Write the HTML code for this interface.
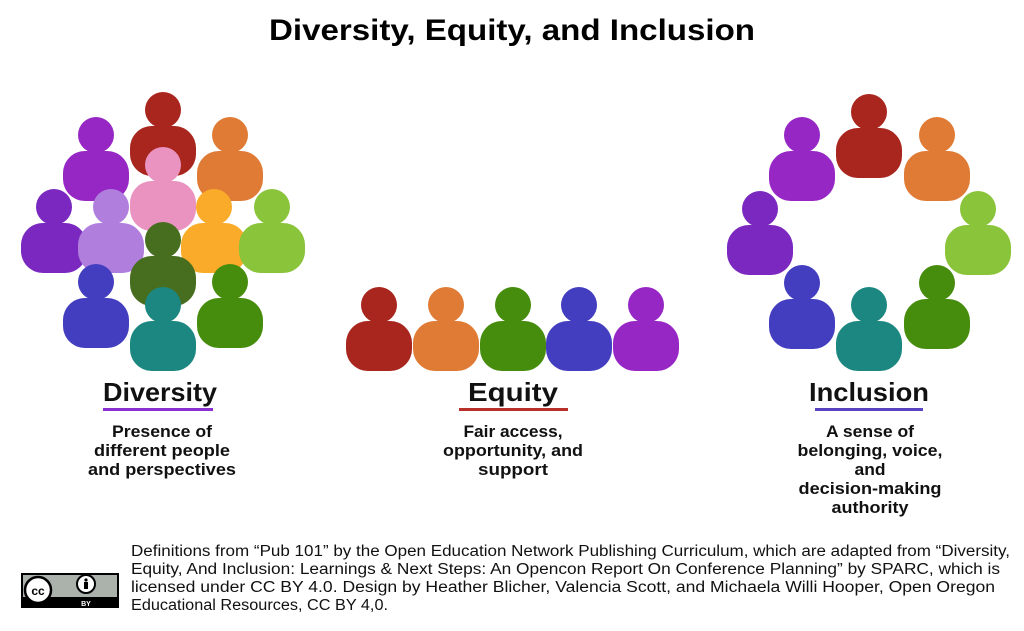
<!DOCTYPE html>
<html><head><style>
html,body{margin:0;padding:0;background:#fff;}
svg{display:block;}
text{font-family:"Liberation Sans",sans-serif;}
</style></head><body>
<svg width="1024" height="631" viewBox="0 0 1024 631">
<defs>
<g id="p"><circle cx="0" cy="0" r="18"/><rect x="-33" y="16" width="66" height="50" rx="22"/></g>
</defs>
<text x="512" y="40" text-anchor="middle" font-size="30" font-weight="bold" fill="#000" textLength="486" lengthAdjust="spacingAndGlyphs">Diversity, Equity, and Inclusion</text>
<use href="#p" x="96" y="135" fill="#9627c4"/>
<use href="#p" x="163" y="110" fill="#a8261d"/>
<use href="#p" x="230" y="135" fill="#e07b35"/>
<use href="#p" x="163" y="165" fill="#ea92c0"/>
<use href="#p" x="54" y="207" fill="#7a28bf"/>
<use href="#p" x="111" y="207" fill="#b07fde"/>
<use href="#p" x="214" y="207" fill="#fbab2a"/>
<use href="#p" x="272" y="207" fill="#8ac43a"/>
<use href="#p" x="163" y="240" fill="#476e1f"/>
<use href="#p" x="96" y="282" fill="#433dbf"/>
<use href="#p" x="230" y="282" fill="#468c0d"/>
<use href="#p" x="163" y="305" fill="#1b8780"/>
<use href="#p" x="379" y="305" fill="#a8261d"/>
<use href="#p" x="446" y="305" fill="#e07b35"/>
<use href="#p" x="513" y="305" fill="#468c0d"/>
<use href="#p" x="579" y="305" fill="#433dbf"/>
<use href="#p" x="646" y="305" fill="#9627c4"/>
<use href="#p" x="869" y="112" fill="#a8261d"/>
<use href="#p" x="802" y="135" fill="#9627c4"/>
<use href="#p" x="937" y="135" fill="#e07b35"/>
<use href="#p" x="760" y="209" fill="#7a28bf"/>
<use href="#p" x="978" y="209" fill="#8ac43a"/>
<use href="#p" x="802" y="283" fill="#433dbf"/>
<use href="#p" x="937" y="283" fill="#468c0d"/>
<use href="#p" x="869" y="305" fill="#1b8780"/>
<g font-weight="bold" fill="#111" text-anchor="middle">
<text x="160" y="401" font-size="26" textLength="114" lengthAdjust="spacingAndGlyphs">Diversity</text>
<text x="513" y="401" font-size="26" textLength="90" lengthAdjust="spacingAndGlyphs">Equity</text>
<text x="869" y="401" font-size="26" textLength="120" lengthAdjust="spacingAndGlyphs">Inclusion</text>
<g font-size="17">
<text x="162" y="437" textLength="100" lengthAdjust="spacingAndGlyphs">Presence of</text>
<text x="162" y="456" textLength="136" lengthAdjust="spacingAndGlyphs">different people</text>
<text x="162" y="475" textLength="148" lengthAdjust="spacingAndGlyphs">and perspectives</text>
<text x="513" y="437" textLength="99" lengthAdjust="spacingAndGlyphs">Fair access,</text>
<text x="513" y="456" textLength="140" lengthAdjust="spacingAndGlyphs">opportunity, and</text>
<text x="513" y="475" textLength="70" lengthAdjust="spacingAndGlyphs">support</text>
<text x="870" y="437" textLength="88" lengthAdjust="spacingAndGlyphs">A sense of</text>
<text x="870" y="456" textLength="145" lengthAdjust="spacingAndGlyphs">belonging, voice,</text>
<text x="870" y="475" textLength="31" lengthAdjust="spacingAndGlyphs">and</text>
<text x="870" y="494" textLength="143" lengthAdjust="spacingAndGlyphs">decision-making</text>
<text x="870" y="513" textLength="77" lengthAdjust="spacingAndGlyphs">authority</text>
</g></g>
<rect x="103" y="408" width="110" height="3" fill="#8a2fd0"/>
<rect x="459" y="408" width="109" height="3" fill="#b8302a"/>
<rect x="815" y="408" width="108" height="3" fill="#5a43c0"/>
<g font-size="15.5" fill="#111">
<text x="131" y="556" textLength="879" lengthAdjust="spacingAndGlyphs">Definitions from “Pub 101” by the Open Education Network Publishing Curriculum, which are adapted from  “Diversity,</text>
<text x="131" y="574" textLength="869" lengthAdjust="spacingAndGlyphs">Equity, And Inclusion: Learnings &amp; Next Steps: An Opencon Report On Conference Planning” by SPARC, which is</text>
<text x="131" y="592" textLength="864" lengthAdjust="spacingAndGlyphs">licensed under CC BY 4.0. Design by Heather Blicher, Valencia Scott, and Michaela Willi Hooper, Open Oregon</text>
<text x="131" y="610" textLength="257" lengthAdjust="spacingAndGlyphs">Educational Resources, CC BY 4,0.</text>
</g>
<rect x="21" y="573" width="98" height="35" fill="#000"/>
<rect x="23" y="575" width="94" height="22" fill="#aab2ab"/>
<circle cx="38" cy="590" r="13" fill="#fff" stroke="#000" stroke-width="2.5"/>
<text x="38" y="595" font-size="12" font-weight="bold" text-anchor="middle" fill="#000">cc</text>
<circle cx="86" cy="584" r="9" fill="#fff" stroke="#000" stroke-width="2"/>
<circle cx="86" cy="580" r="1.6" fill="#000"/>
<rect x="84" y="582" width="4" height="7" fill="#000"/>
<text x="86" y="606" font-size="7" font-weight="bold" text-anchor="middle" fill="#fff">BY</text>
</svg>
</body></html>
